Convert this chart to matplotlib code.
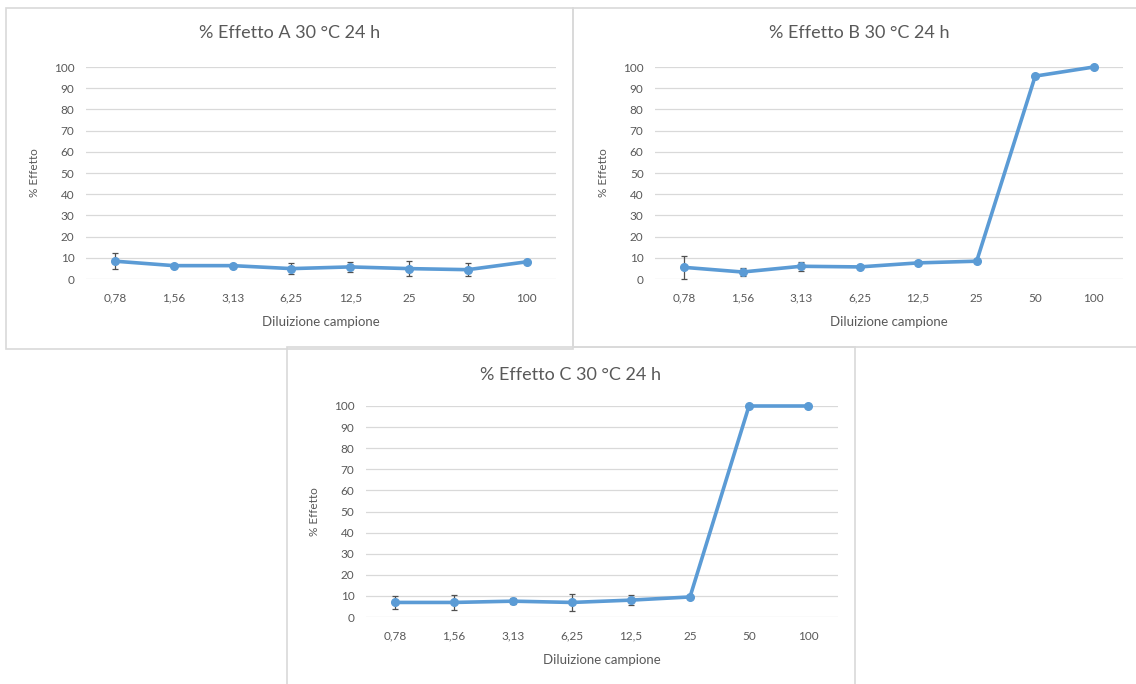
import numpy as np
import matplotlib
matplotlib.use('Agg')
import matplotlib.pyplot as plt
from matplotlib.patches import Rectangle

plt.rcParams['font.family'] = ['Lato', 'DejaVu Sans']

# dilutions on the category axis
dilutions = ['0,78', '1,56', '3,13', '6,25', '12,5', '25', '50', '100']

# % effect, mean and error, per sample
effect_a = [8.4, 6.3, 6.3, 4.9, 5.7, 4.9, 4.4, 8.1]
err_a = [3.7, 0.5, 0.5, 2.7, 2.5, 3.5, 3.2, 0.5]

effect_b = [5.5, 3.3, 6.0, 5.7, 7.6, 8.4, 95.7, 100]
err_b = [5.3, 2.0, 2.0, 0.7, 0.7, 1.0, 0.5, 0.3]

effect_c = [6.9, 6.9, 7.5, 6.9, 8.0, 9.5, 100, 100]
err_c = [3.0, 3.7, 1.5, 4.0, 2.5, 0.5, 0.3, 0.3]

titles = ['% Effetto A 30 °C 24 h', '% Effetto B 30 °C 24 h', '% Effetto C 30 °C 24 h']

W, H = 1136, 684
LINE = '#5B9BD5'
TXT = '#595959'
GRID = '#D9D9D9'

fig = plt.figure(figsize=(W / 100, H / 100), dpi=100)


def px_axes(left, right, top, bottom):
    return fig.add_axes([left / W, 1 - bottom / H, (right - left) / W, (bottom - top) / H])


def panel_box(x0, y0, x1, y1, title, ty):
    fig.patches.append(Rectangle((x0 / W, 1 - y1 / H), (x1 - x0) / W, (y1 - y0) / H,
                                 transform=fig.transFigure, fill=False,
                                 edgecolor=GRID, linewidth=1.2))
    # title is centred on the chart box, not on the plot area
    fig.text((x0 + x1) / 2 / W, 1 - ty / H, title, ha='center', va='center',
             color=TXT, fontsize=13)


def draw_chart(ax, vals, errs):
    x = np.arange(len(dilutions))
    ax.errorbar(x, vals, yerr=errs, color=LINE, lw=2.6, marker='o', ms=5.5,
                ecolor='#505050', elinewidth=0.9, capsize=2.5, capthick=0.9,
                clip_on=False, zorder=3)
    ax.set_xlim(-0.5, len(dilutions) - 0.5)
    ax.set_ylim(0, 100)
    ax.set_yticks(range(0, 101, 10))
    ax.set_xticks(x)
    ax.set_xticklabels(dilutions)
    ax.grid(axis='y', color=GRID, lw=0.9)
    ax.set_axisbelow(True)
    for s in ax.spines.values():
        s.set_visible(False)
    ax.tick_params(length=0, colors=TXT, labelsize=8.5)
    ax.tick_params(axis='y', pad=8)
    ax.tick_params(axis='x', pad=10)
    ax.set_xlabel('Diluizione campione', color=TXT, fontsize=9.5, labelpad=9)
    ax.set_ylabel('% Effetto', color=TXT, fontsize=8.5, labelpad=10)


panel_box(6, 8, 573, 349, titles[0], 33)
panel_box(573, 8, 1145, 347, titles[1], 33)
panel_box(287, 347, 855, 695, titles[2], 375)

ax_a = px_axes(85.6, 556, 67, 279)
draw_chart(ax_a, effect_a, err_a)

ax_b = px_axes(654.7, 1123, 67, 279)
draw_chart(ax_b, effect_b, err_b)

ax_c = px_axes(365.5, 837.5, 406, 617)
draw_chart(ax_c, effect_c, err_c)

fig.savefig('out.png', dpi=100, facecolor='white')
